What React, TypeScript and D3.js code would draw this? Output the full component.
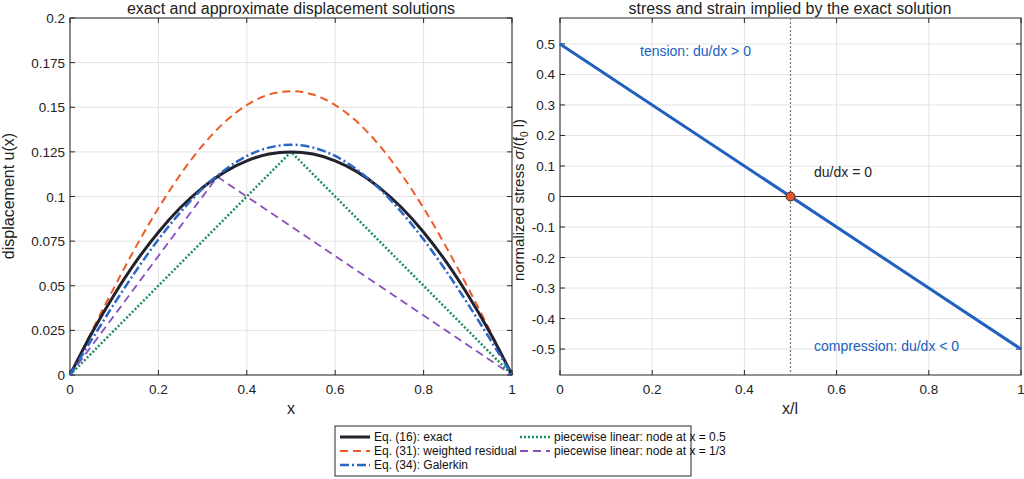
import React from 'react';
import * as d3 from 'd3';

const xs = [0, 0.05, 0.1, 0.15, 0.2, 0.25, 0.3, 0.35, 0.4, 0.45, 0.5, 0.55, 0.6, 0.65, 0.7, 0.75, 0.8, 0.85, 0.9, 0.95, 1];
const exact = [0, 0.0238, 0.045, 0.0638, 0.08, 0.0938, 0.105, 0.1138, 0.12, 0.1238, 0.125, 0.1238, 0.12, 0.1138, 0.105, 0.0938, 0.08, 0.0638, 0.045, 0.0238, 0];
const weighted = [0, 0.0249, 0.0491, 0.0722, 0.0935, 0.1124, 0.1286, 0.1417, 0.1512, 0.1571, 0.159, 0.1571, 0.1512, 0.1417, 0.1286, 0.1124, 0.0935, 0.0722, 0.0491, 0.0249, 0];
const galerkin = [0, 0.0202, 0.0399, 0.0586, 0.0759, 0.0912, 0.1044, 0.1149, 0.1227, 0.1274, 0.129, 0.1274, 0.1227, 0.1149, 0.1044, 0.0912, 0.0759, 0.0586, 0.0399, 0.0202, 0];
const pwHalfX = [0, 0.5, 1];
const pwHalfY = [0, 0.125, 0];
const pwThirdX = [0, 1 / 3, 1];
const pwThirdY = [0, 0.1111, 0];
const stressX = [0, 1];
const stressY = [0.5, -0.5];

const leftYTicks = [0, 0.025, 0.05, 0.075, 0.1, 0.125, 0.15, 0.175, 0.2];
const rightYTicks = [-0.5, -0.4, -0.3, -0.2, -0.1, 0, 0.1, 0.2, 0.3, 0.4, 0.5];
const xTicks = [0, 0.2, 0.4, 0.6, 0.8, 1];

const FONT = 'Liberation Sans, Arial, sans-serif';
const C = { exact: '#22222e', weighted: '#ee5a24', galerkin: '#2a66c4', green: '#1e9060', purple: '#8a4fbf', stress: '#2060c0' };

const top = 18, bottom = 375;

function Frame({ x, y, yTicks }: any) {
  const [x0, x1] = x.range();
  return (
    <g fontFamily={FONT} fontSize={13.5} fill="#222">
      {xTicks.map(t => <line key={'gx' + t} x1={x(t)} x2={x(t)} y1={top} y2={bottom} stroke="#e3e3e3" />)}
      {yTicks.map((t: number) => <line key={'gy' + t} x1={x0} x2={x1} y1={y(t)} y2={y(t)} stroke="#e3e3e3" />)}
      <rect x={x0} y={top} width={x1 - x0} height={bottom - top} fill="none" stroke="#262626" />
      {xTicks.map(t => (
        <g key={'tx' + t}>
          <line x1={x(t)} x2={x(t)} y1={bottom} y2={bottom - 5} stroke="#262626" />
          <line x1={x(t)} x2={x(t)} y1={top} y2={top + 5} stroke="#262626" />
          <text x={x(t)} y={bottom + 19} textAnchor="middle">{String(t)}</text>
        </g>
      ))}
      {yTicks.map((t: number) => (
        <g key={'ty' + t}>
          <line x1={x0} x2={x0 + 5} y1={y(t)} y2={y(t)} stroke="#262626" />
          <line x1={x1} x2={x1 - 5} y1={y(t)} y2={y(t)} stroke="#262626" />
          <text x={x0 - 5} y={y(t) + 5} textAnchor="end">{String(t)}</text>
        </g>
      ))}
    </g>
  );
}

export default function App() {
  const xl = d3.scaleLinear().domain([0, 1]).range([70, 512]);
  const yl = d3.scaleLinear().domain([0, 0.2]).range([bottom, top]);
  const xr = d3.scaleLinear().domain([0, 1]).range([560, 1021]);
  const yr = d3.scaleLinear().domain([-0.585, 0.585]).range([bottom, top]);
  const curve = (xv: number[], yv: number[], ys: any, xsc: any) =>
    d3.line<number>().x(i => xsc(xv[i])).y(i => ys(yv[i])).curve(d3.curveMonotoneX)(xv.map((_, i) => i)) as string;
  const poly = (xv: number[], yv: number[], ys: any, xsc: any) =>
    d3.line<number>().x(i => xsc(xv[i])).y(i => ys(yv[i]))(xv.map((_, i) => i)) as string;

  const legend = [
    { c: C.exact, w: 3, d: '', t: 'Eq. (16): exact', x: 340, y: 437 },
    { c: C.weighted, w: 2, d: '8,5', t: 'Eq. (31): weighted residual', x: 340, y: 451 },
    { c: C.galerkin, w: 2.5, d: '9,3,2,3', t: 'Eq. (34): Galerkin', x: 340, y: 465 },
    { c: C.green, w: 2.5, d: '2,2', t: 'piecewise linear: node at x = 0.5', x: 520, y: 437 },
    { c: C.purple, w: 1.8, d: '8,5', t: 'piecewise linear: node at x = 1/3', x: 520, y: 451 },
  ];

  return (
    <svg width={1024} height={479} style={{ position: 'absolute', left: 0, top: 0, background: '#fff' }}>
      <Frame x={xl} y={yl} yTicks={leftYTicks} />
      <Frame x={xr} y={yr} yTicks={rightYTicks} />
      <g fontFamily={FONT} fill="#222">
        <text x={291} y={14} textAnchor="middle" fontSize={16}>exact and approximate displacement solutions</text>
        <text x={790} y={14} textAnchor="middle" fontSize={16}>stress and strain implied by the exact solution</text>
        <text x={291} y={414} textAnchor="middle" fontSize={16}>x</text>
        <text x={790} y={414} textAnchor="middle" fontSize={16}>x/l</text>
        <text transform="translate(14,196) rotate(-90)" textAnchor="middle" fontSize={16}>displacement  u(x)</text>
        <text transform="translate(524,200) rotate(-90)" textAnchor="middle" fontSize={15}>
          normalized stress  <tspan fontStyle="italic">σ</tspan>/(f<tspan fontSize={10} dy={4}>0</tspan><tspan dy={-4}> l)</tspan>
        </text>
      </g>
      <g fill="none">
        <path d={curve(xs, weighted, yl, xl)} stroke={C.weighted} strokeWidth={2} strokeDasharray="8,5" />
        <path d={poly(pwHalfX, pwHalfY, yl, xl)} stroke={C.green} strokeWidth={2.5} strokeDasharray="2,2" />
        <path d={poly(pwThirdX, pwThirdY, yl, xl)} stroke={C.purple} strokeWidth={1.8} strokeDasharray="8,5" />
        <path d={curve(xs, exact, yl, xl)} stroke={C.exact} strokeWidth={3} />
        <path d={curve(xs, galerkin, yl, xl)} stroke={C.galerkin} strokeWidth={2.5} strokeDasharray="9,3,2,3" />
        <line x1={xr(0)} x2={xr(1)} y1={yr(0)} y2={yr(0)} stroke="#262626" strokeWidth={1} />
        <line x1={xr(0.5)} x2={xr(0.5)} y1={top} y2={bottom} stroke="#777" strokeWidth={1.2} strokeDasharray="2,2" />
        <path d={poly(stressX, stressY, yr, xr)} stroke={C.stress} strokeWidth={3} />
      </g>
      <circle cx={xr(0.5)} cy={yr(0)} r={4.5} fill="#e2582c" stroke="#3a2a20" strokeWidth={1} />
      <g fontFamily={FONT} fontSize={14}>
        <text x={640} y={56} fill={C.stress}>tension: du/dx &gt; 0</text>
        <text x={814} y={177} fill="#222">du/dx = 0</text>
        <text x={814} y={351} fill={C.stress}>compression: du/dx &lt; 0</text>
      </g>
      <rect x={335} y={426} width={356} height={50} fill="#fff" stroke="#262626" />
      <g fontFamily={FONT} fontSize={12} fill="#111">
        {legend.map(l => (
          <g key={l.t}>
            <line x1={l.x} x2={l.x + 30} y1={l.y} y2={l.y} stroke={l.c} strokeWidth={l.w} strokeDasharray={l.d || undefined} />
            <text x={l.x + 34} y={l.y + 4}>{l.t}</text>
          </g>
        ))}
      </g>
    </svg>
  );
}
